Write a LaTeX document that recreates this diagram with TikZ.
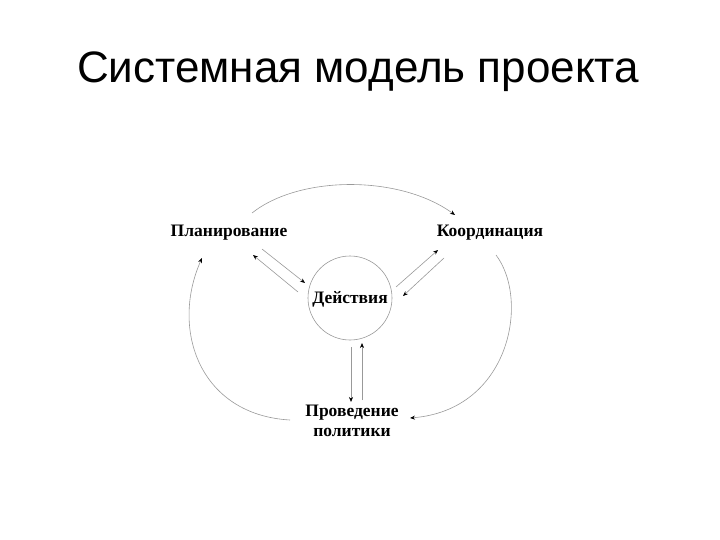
\documentclass[tikz,border=0pt]{standalone}
\usepackage{fontspec}
\setmainfont{Liberation Serif}
\newfontfamily\titlefont{Liberation Sans}
\usetikzlibrary{arrows.meta}
\begin{document}
\begin{tikzpicture}[x=1pt,y=-1pt,
  lbl/.style={font=\bfseries\fontsize{17.5}{20}\selectfont,align=center,inner sep=1pt},
  conn/.style={draw=gray!80,line width=0.6pt,-{Stealth[length=5pt,width=4pt,color=black]}}]
\useasboundingbox (0,0) rectangle (720,540);
\node[font=\titlefont\fontsize{44}{50}\selectfont] (title) at (358,72) {Системная модель проекта};
\draw[gray!80,line width=0.6pt] (350,298) circle (42);
\node[lbl] (act) at (350,299) {Действия};
\node[lbl] (plan) at (229,233) {Планирование};
\node[lbl] (coord) at (490,233) {Координация};
\node[lbl] (pol) at (352,421) {Проведение\\политики};
% outer arcs
\coordinate (t1) at (252,213); \coordinate (t2) at (455,215);
\draw[conn] (t1) .. controls (300,175) and (400,175) .. (t2);
\coordinate (r1) at (496,255); \coordinate (r2) at (410,418);
\draw[conn] (r1) .. controls (530,300) and (510,410) .. (r2);
\coordinate (l1) at (290,420); \coordinate (l2) at (202,258);
\draw[conn] (l1) .. controls (200,415) and (170,330) .. (l2);
% inner pairs
\coordinate (a1) at (262,249); \coordinate (a2) at (305,283);
\coordinate (b1) at (298,292); \coordinate (b2) at (253,255);
\draw[conn] (a1) -- (a2); \draw[conn] (b1) -- (b2);
\coordinate (c1) at (396,287); \coordinate (c2) at (438,250);
\coordinate (d1) at (444,258); \coordinate (d2) at (403,296);
\draw[conn] (c1) -- (c2); \draw[conn] (d1) -- (d2);
\coordinate (e1) at (351,347); \coordinate (e2) at (351,402);
\coordinate (f1) at (362,400); \coordinate (f2) at (362,343);
\draw[conn] (e1) -- (e2); \draw[conn] (f1) -- (f2);
\end{tikzpicture}
\end{document}
